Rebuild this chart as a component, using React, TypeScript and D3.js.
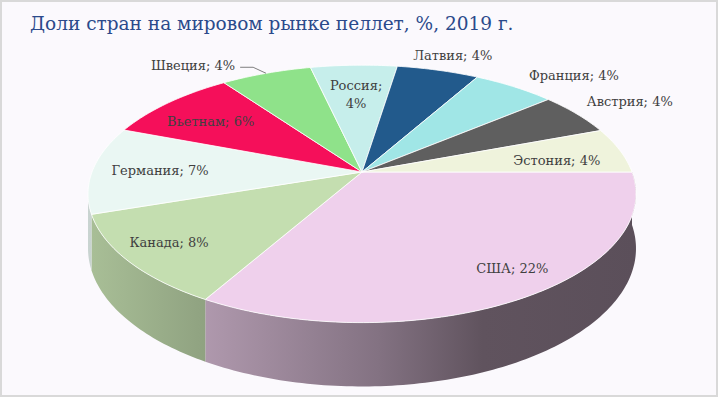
import React, { useEffect } from "react";
import * as d3 from "d3";

// Данные: доли стран на мировом рынке пеллет, 2019
const categories = ["США", "Канада", "Германия", "Вьетнам", "Швеция", "Россия", "Латвия", "Франция", "Австрия", "Эстония"];
const shares = [22.1, 7.7, 7.3, 6.2, 4.2, 4.0, 3.8, 3.8, 3.6, 3.8];
const colors = ["#EFD0EC", "#C4DEB0", "#EAF7F3", "#F50F5A", "#8FE28A", "#C6EEEB", "#225A8C", "#A0E6E6", "#5F5F5F", "#EFF3DC"];
const title = "Доли стран на мировом рынке пеллет, %, 2019 г.";

// раскладка подписей (радиус в долях и сдвиг угла в градусах)
const labelRadius = [0.84, 0.83, 0.75, 0.74, 1.14, 0.69, 1.18, 1.27, 1.26, 0.74];
const labelShift = [-5.7, 1.3, 0, -2, -4.6, 0, 0.7, 5.7, 0.8, 2.7];
const outsideLeft = new Set(["Швеция"]);
const wrapped = new Set(["Россия"]);

const W = 718;
const H = 397;
const cx = 362, cy = 172;
const rx = 270, ry = 125;
const persp = 0.17;
const depth = 53;

// перспективная проекция точки диска (phi: 0 = восток, по часовой)
const proj = (phi: number, r: number, z: number): [number, number] => {
  const s = Math.sin(phi), c = Math.cos(phi);
  const w = 1 / (1 - persp * r * s);
  return [cx + rx * r * c * w, cy + (ry * r * s + depth * z) * w];
};

const arcPts = (a0: number, a1: number, z: number) => {
  const n = Math.max(2, Math.ceil(((a1 - a0) * 180) / Math.PI));
  return d3.range(n + 1).map((i) => proj(a0 + ((a1 - a0) * i) / n, 1, z));
};

const line = d3.line();

const shade = (col: string, f: number) => {
  const c = d3.rgb(col);
  return d3.rgb(c.r * f, c.g * f, c.b * f).formatHex();
};
const shadeStops = [
  [0, 0.86],
  [0.2, 0.74],
  [0.53, 0.55],
  [0.72, 0.4],
  [1, 0.38],
];

// видимая часть боковой стенки
const sideFrom = 0;
const sideTo = Math.PI - Math.asin(persp);

const App = () => {
  useEffect(() => {
    document.body.style.margin = "0";
  }, []);

  const pie = d3
    .pie<number>()
    .sort(null)
    .startAngle(Math.PI / 2)
    .endAngle(Math.PI / 2 + 2 * Math.PI);
  const arcs = pie(shares).map((d, i) => ({
    i,
    a0: d.startAngle - Math.PI / 2,
    a1: d.endAngle - Math.PI / 2,
    value: d.value,
  }));

  const toRad = (deg: number) => (deg * Math.PI) / 180;
  const font = { fontFamily: "'DejaVu Serif', serif", fontSize: 13, fill: "#404040" };

  return (
    <svg width={W} height={H} style={{ display: "block" }}>
      <defs>
        {arcs.map((d) => (
          <linearGradient key={d.i} id={`side${d.i}`} gradientUnits="userSpaceOnUse" x1={cx - rx * 1.015} x2={cx + rx * 1.015} y1={0} y2={0}>
            {shadeStops.map(([o, f]) => (
              <stop key={o} offset={o} stopColor={shade(colors[d.i], f)} />
            ))}
          </linearGradient>
        ))}
      </defs>
      <rect x={1} y={1} width={W - 2} height={H - 2} fill="#FBF9FD" stroke="#D9D9D9" strokeWidth={2} />
      <text x={30} y={30} fontFamily="'DejaVu Serif', serif" fontSize={18.5} fill="#2B4A8B">
        {title}
      </text>

      {/* боковые стенки */}
      {arcs.map((d) => {
        const a0 = Math.max(d.a0, sideFrom);
        const a1 = Math.min(d.a1, sideTo);
        if (a1 <= a0) return null;
        const pts = [...arcPts(a0, a1, 0), ...arcPts(a0, a1, 1).reverse()];
        return <path key={d.i} d={line(pts) + "Z"} fill={`url(#side${d.i})`} />;
      })}

      {/* верх */}
      {arcs.map((d) => {
        const pts = [proj(0, 0, 0), ...arcPts(d.a0, d.a1, 0)];
        return <path key={d.i} d={line(pts) + "Z"} fill={colors[d.i]} stroke="#FFFFFF" strokeWidth={0.8} strokeLinejoin="round" />;
      })}

      {/* подписи */}
      {arcs.map((d) => {
        const name = categories[d.i];
        const pct = `${Math.round(d.value)}%`;
        const mid = (d.a0 + d.a1) / 2;
        const [x, y] = proj(mid + toRad(labelShift[d.i]), labelRadius[d.i], 0);
        if (wrapped.has(name)) {
          return (
            <text key={d.i} x={x} y={y} textAnchor="middle" {...font}>
              <tspan x={x} dy="-0.4em">{name};</tspan>
              <tspan x={x} dy="1.4em">{pct}</tspan>
            </text>
          );
        }
        if (outsideLeft.has(name)) {
          const [ex, ey] = proj(mid, 1, 0);
          const leader = [
            [x + 5, y + 2],
            [x + 18, y + 2],
            [ex, ey],
          ] as [number, number][];
          return (
            <g key={d.i}>
              <path d={line(leader) ?? ""} fill="none" stroke="#7F7F7F" strokeWidth={1} />
              <text x={x} y={y} dy="0.35em" textAnchor="end" {...font}>
                {`${name}; ${pct}`}
              </text>
            </g>
          );
        }
        return (
          <text key={d.i} x={x} y={y} dy="0.35em" textAnchor="middle" {...font}>
            {`${name}; ${pct}`}
          </text>
        );
      })}
    </svg>
  );
};

export default App;
